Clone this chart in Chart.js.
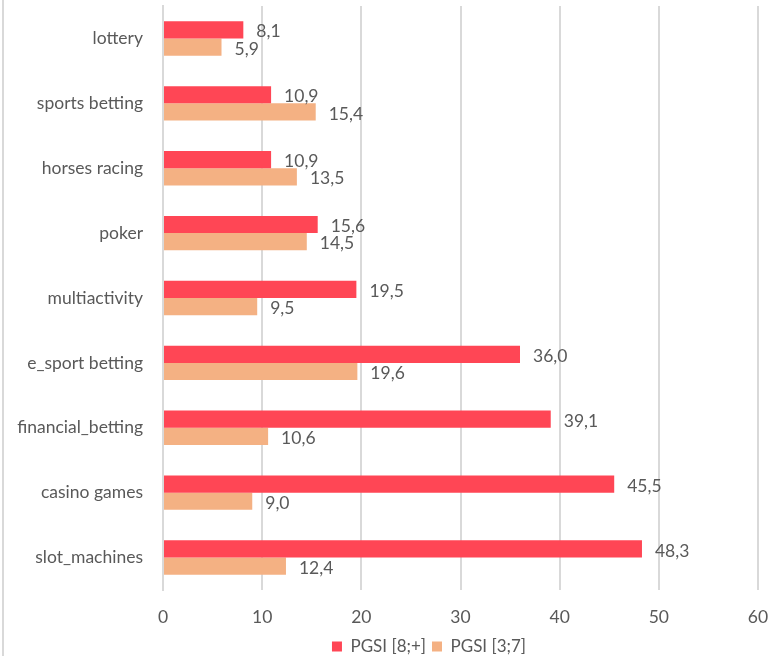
<!DOCTYPE html>
<html>
<head>
<meta charset="utf-8">
<script src="https://cdn.jsdelivr.net/npm/chart.js@4"></script>
<style>
  body { margin: 0; background: #fff; }
  #wrap { width: 769px; height: 656px; position: relative; }
</style>
</head>
<body>
<div id="wrap"><canvas id="chartCanvas" width="769" height="656"></canvas></div>
<script>
const categories = ["lottery", "sports betting", "horses racing", "poker", "multiactivity",
  "e_sport betting", "financial_betting", "casino games", "slot_machines"];
const pgsiHigh = [8.1, 10.9, 10.9, 15.6, 19.5, 36.0, 39.1, 45.5, 48.3];
const pgsiMid = [5.9, 15.4, 13.5, 14.5, 9.5, 19.6, 10.6, 9.0, 12.4];
const xTicks = [0, 10, 20, 30, 40, 50, 60];

const fontFamily = "Lato, 'Open Sans', sans-serif";
const textColor = "#595959";

// etiquetas de valor a la derecha de cada barra
const etiquetas = {
  id: "etiquetas",
  afterDatasetsDraw(chart) {
    const ctx = chart.ctx;
    ctx.save();
    ctx.font = "17.5px " + fontFamily;
    ctx.fillStyle = textColor;
    ctx.textAlign = "left";
    ctx.textBaseline = "middle";
    chart.data.datasets.forEach((ds, i) => {
      chart.getDatasetMeta(i).data.forEach((bar, j) => {
        const txt = ds.data[j].toFixed(1).replace(".", ",");
        ctx.fillText(txt, bar.x + 13, bar.y + 2);
      });
    });
    ctx.restore();
  }
};

// borde izquierdo del marco y ajuste de la leyenda
const marco = {
  id: "marco",
  afterLayout(chart) {
    const lg = chart.legend;
    lg.left += 50;
    lg.right += 50;
    lg.top += 9;
    lg.bottom += 9;
  },
  beforeDraw(chart) {
    const ctx = chart.ctx;
    ctx.save();
    ctx.fillStyle = "#fff";
    ctx.fillRect(0, 0, chart.width, chart.height);
    ctx.strokeStyle = "#d9d9d9";
    ctx.lineWidth = 2;
    ctx.beginPath();
    ctx.moveTo(3, 0);
    ctx.lineTo(3, chart.height);
    ctx.stroke();
    ctx.restore();
  }
};

function sinRelleno(scale) {
  scale.paddingTop = 0;
  scale.paddingBottom = 0;
  scale.paddingLeft = 0;
  scale.paddingRight = 0;
}

const ctx = document.getElementById("chartCanvas").getContext("2d");
new Chart(ctx, {
  type: "bar",
  data: {
    labels: categories,
    datasets: [
      { label: "PGSI [8;+]", data: pgsiHigh, backgroundColor: "#ff4655" },
      { label: "PGSI [3;7]", data: pgsiMid, backgroundColor: "#f4b183" }
    ]
  },
  options: {
    indexAxis: "y",
    responsive: false,
    animation: false,
    layout: { padding: { top: 6, right: 11, left: 0, bottom: 0 } },
    datasets: { bar: { categoryPercentage: 0.53, barPercentage: 1.0 } },
    scales: {
      x: {
        min: 0,
        max: 60,
        afterBuildTicks(scale) { scale.ticks = xTicks.map(v => ({ value: v })); },
        grid: { color: "#d9d9d9", lineWidth: 2, drawTicks: false },
        border: { display: false },
        ticks: { color: textColor, font: { family: fontFamily, size: 17.5 }, padding: 17 },
        afterFit(scale) { scale.height = 33; sinRelleno(scale); }
      },
      y: {
        grid: { display: false, drawTicks: false },
        border: { display: true, color: "#d9d9d9", width: 2 },
        ticks: { color: textColor, font: { family: fontFamily, size: 17.5 }, padding: 20 },
        afterFit(scale) { scale.width = 163; sinRelleno(scale); }
      }
    },
    plugins: {
      legend: {
        position: "bottom",
        labels: {
          color: textColor,
          font: { family: fontFamily, size: 17 },
          boxWidth: 10,
          boxHeight: 10,
          padding: 6
        }
      },
      tooltip: { enabled: false }
    }
  },
  plugins: [marco, etiquetas]
});
</script>
</body>
</html>
